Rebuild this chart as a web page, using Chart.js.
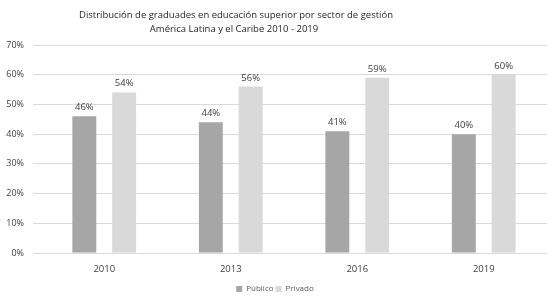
<!DOCTYPE html>
<html>
<head>
<meta charset="utf-8">
<script src="https://cdn.jsdelivr.net/npm/chart.js@4.4.1/dist/chart.umd.min.js"></script>
<style>
    html, body { margin: 0; padding: 0; background: #ffffff; }
    #wrap { width: 547px; height: 297px; position: relative; }
</style>
</head>
<body>
<div id="wrap"><canvas id="chart"></canvas></div>
<script>
const years = ['2010', '2013', '2016', '2019'];
const publico = [46, 44, 41, 40];
const privado = [54, 56, 59, 60];
const titleLines = [
    'Distribución de graduades en educación superior por sector de gestión',
    'América Latina y el Caribe 2010 - 2019'
];

const FONT = "'Open Sans', 'Liberation Sans', sans-serif";

// draws the value above each bar
const barLabels = {
    id: 'barLabels',
    afterDatasetsDraw(chart) {
        const ctx = chart.ctx;
        ctx.save();
        ctx.font = '9.5px ' + FONT;
        ctx.fillStyle = '#404040';
        ctx.textAlign = 'center';
        ctx.textBaseline = 'bottom';
        chart.data.datasets.forEach((ds, i) => {
            const meta = chart.getDatasetMeta(i);
            meta.data.forEach((bar, j) => {
                ctx.fillText(ds.data[j] + '%', bar.x, bar.y - 4);
            });
        });
        ctx.restore();
    }
};

// title sits a bit left of centre in the original
const titleText = {
    id: 'titleText',
    afterDraw(chart) {
        const ctx = chart.ctx;
        ctx.save();
        ctx.font = '9.5px ' + FONT;
        ctx.fillStyle = '#262626';
        ctx.textAlign = 'center';
        ctx.textBaseline = 'middle';
        ctx.fillText(titleLines[0], 236, 15);
        ctx.fillText(titleLines[1], 234, 29);
        ctx.restore();
    }
};

new Chart(document.getElementById('chart'), {
    type: 'bar',
    data: {
        labels: years,
        datasets: [
            {
                label: 'Público',
                data: publico,
                backgroundColor: '#a6a6a6',
                categoryPercentage: 0.63,
                barPercentage: 0.6
            },
            {
                label: 'Privado',
                data: privado,
                backgroundColor: '#d9d9d9',
                categoryPercentage: 0.63,
                barPercentage: 0.6
            }
        ]
    },
    options: {
        responsive: true,
        maintainAspectRatio: false,
        animation: false,
        layout: { padding: { top: 45, right: 0, left: 3, bottom: -6 } },
        scales: {
            x: {
                grid: { display: false },
                border: { display: false },
                ticks: { color: '#404040', font: { family: FONT, size: 9.5 }, padding: 3 },
                afterFit(scale) { scale.height = 30; }
            },
            y: {
                min: 0,
                max: 70,
                grid: { color: '#d9d9d9', lineWidth: 1 },
                border: { display: false },
                afterFit(scale) { scale.width = 38; },
                ticks: {
                    stepSize: 10,
                    color: '#404040',
                    font: { family: FONT, size: 9 },
                    padding: 9,
                    callback: (v) => v + '%'
                }
            }
        },
        plugins: {
            legend: {
                position: 'bottom',
                labels: {
                    boxWidth: 6,
                    boxHeight: 6,
                    padding: 2,
                    color: '#595959',
                    font: { family: FONT, size: 8 }
                }
            },
            title: { display: false },
            tooltip: { enabled: false }
        }
    },
    plugins: [barLabels, titleText]
});
</script>
</body>
</html>
